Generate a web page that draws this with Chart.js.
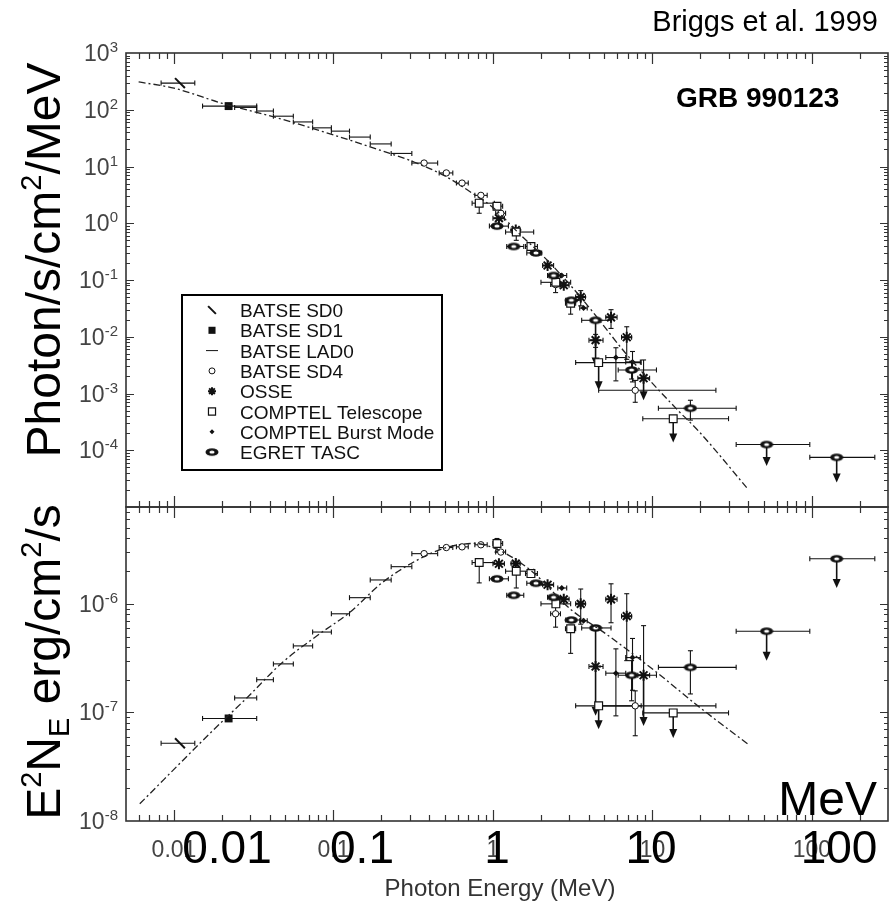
<!DOCTYPE html>
<html>
<head>
<meta charset="utf-8">
<script src="https://cdn.jsdelivr.net/npm/chart.js@4.4.1/dist/chart.umd.min.js"></script>
<style>
  body { margin: 0; background: #fff; }
  #wrap { position: relative; width: 894px; height: 902px; overflow: hidden; background: #fff; }
  canvas { position: absolute; left: 0; }
  #topChart { top: 0; }
  #botChart { top: 502px; }
</style>
</head>
<body>
<div id="wrap">
  <canvas id="topChart" width="894" height="512"></canvas>
  <canvas id="botChart" width="894" height="400"></canvas>
</div>
<script>
const FONT = '"Liberation Sans", Arial, Helvetica, sans-serif';
const INK = '#111';
const AXIS = '#333';
const LABEL = '#444';

// axis labels
const xTickVals = [0.01, 0.1, 1, 10, 100];
const xTickText = ['0.01', '0.1', '1', '10', '100'];
const topTickExp = [3, 2, 1, 0, -1, -2, -3, -4];
const botTickExp = [-6, -7, -8];
const legendNames = ['BATSE SD0', 'BATSE SD1', 'BATSE LAD0', 'BATSE SD4', 'OSSE',
  'COMPTEL Telescope', 'COMPTEL Burst Mode', 'EGRET TASC'];

// fitted model (photons / E^2 N_E)
const modelE  = [0.006, 0.01, 0.02, 0.046, 0.1, 0.2, 0.32, 0.5, 0.74, 1.0, 1.45, 2.2, 3.2, 4.2, 6.8, 14.5, 19.4, 39];
const modelN  = [310, 240, 130, 70, 36, 19, 12, 6.8, 3.4, 1.9, 0.67, 0.22, 0.07, 0.028, 0.0051, 5e-4, 2.2e-4, 2.2e-5];
const modelE2 = [0.0061, 0.0175, 0.0286, 0.048, 0.082, 0.126, 0.2, 0.33, 0.51, 0.76, 1.1, 1.75, 3.1, 5.1, 10.4, 20, 39.8];
const modelF  = [1.44e-8, 6.8e-8, 1.36e-7, 2.9e-7, 5.3e-7, 8.3e-7, 1.55e-6, 2.5e-6, 3.3e-6, 3.6e-6, 3.1e-6, 2.0e-6, 8.8e-7, 5.3e-7, 2.4e-7, 1.1e-7, 5.1e-8];

// BATSE SD0
const sd0E = [0.0109], sd0Elo = [0.0083], sd0Ehi = [0.0135];
const sd0N = [295], sd0F = [5.2e-8];

// BATSE SD1
const sd1E = [0.022], sd1Elo = [0.0151], sd1Ehi = [0.033];
const sd1N = [116], sd1F = [8.8e-8];

// BATSE LAD0
const ladE   = [0.028, 0.037, 0.048, 0.064, 0.085, 0.11, 0.145, 0.197, 0.266];
const ladElo = [0.024, 0.033, 0.042, 0.056, 0.074, 0.097, 0.126, 0.17, 0.23];
const ladEhi = [0.033, 0.042, 0.056, 0.074, 0.097, 0.126, 0.17, 0.23, 0.31];
const ladN   = [110, 95, 77, 61, 48, 42, 33, 25, 17];
const ladF   = [1.36e-7, 2.0e-7, 2.8e-7, 4.1e-7, 5.5e-7, 8.1e-7, 1.14e-6, 1.66e-6, 2.2e-6];

// BATSE SD4
const sd4E   = [0.37, 0.51, 0.64, 0.84, 1.12, 2.47, 7.8];
const sd4Elo = [0.31, 0.46, 0.59, 0.77, 1.04, 2.3, 4.6];
const sd4Ehi = [0.45, 0.56, 0.70, 0.92, 1.20, 2.65, 25];
const sd4N   = [11.5, 7.7, 5.1, 3.1, 1.5, 0.083, 1.14e-3];
const sd4Nlo = [null, null, null, null, null, 0.06, 7e-4];
const sd4Nhi = [null, null, null, null, null, 0.11, 1.7e-3];
const sd4F   = [2.9e-6, 3.3e-6, 3.35e-6, 3.5e-6, 3.0e-6, 8.1e-7, 1.15e-7];
const sd4Flo = [null, null, null, null, null, 6.1e-7, 6.1e-8];
const sd4Fhi = [null, null, null, null, null, 1.05e-6, 1.58e-7];

// OSSE
const osseE   = [1.09, 1.39, 2.2, 2.78, 3.55, 4.4, 5.5, 6.9, 8.8];
const osseElo = [1.0, 1.3, 2.05, 2.6, 3.3, 4.0, 5.1, 6.4, 8.1];
const osseEhi = [1.18, 1.48, 2.4, 3.0, 3.8, 4.9, 6.0, 7.4, 9.6];
const osseN   = [1.23, 0.76, 0.18, 0.081, 0.05, 0.0087, 0.022, 0.0098, 1.86e-3];
const osseNlo = [null, null, null, null, 0.035, 0.0065, 0.014, 0.004, 7.6e-4];
const osseNhi = [null, null, null, null, 0.065, 0.011, 0.03, 0.015, 3.9e-3];
const osseF   = [2.34e-6, 2.35e-6, 1.5e-6, 1.1e-6, 1.0e-6, 2.65e-7, 1.1e-6, 7.7e-7, 2.2e-7];
const osseFlo = [null, null, null, null, 6.5e-7, null, 6.7e-7, 3.0e-7, 7.5e-8];
const osseFhi = [null, null, null, null, 1.37e-6, null, 1.53e-6, 1.24e-6, 6.3e-7];
const osseUL  = [0, 0, 0, 0, 0, 0, 0, 0, 1];

// COMPTEL Telescope
const comptelE   = [0.82, 1.06, 1.4, 1.73, 2.48, 3.07, 4.6, 13.5];
const comptelElo = [0.74, 1.0, 1.2, 1.6, 2.0, 2.85, 3.3, 8.7];
const comptelEhi = [1.02, 1.15, 1.8, 1.9, 3.07, 3.3, 8.5, 30];
const comptelN   = [2.26, 2.0, 0.70, 0.39, 0.091, 0.039, 3.5e-3, 3.6e-4];
const comptelNlo = [1.5, null, 0.5, null, null, 0.025, 1.14e-3, 1.37e-4];
const comptelNhi = [2.6, null, null, null, null, null, null, null];
const comptelF   = [2.4e-6, 3.6e-6, 2.0e-6, 1.9e-6, 1.0e-6, 5.9e-7, 1.15e-7, 9.9e-8];
const comptelFlo = [1.56e-6, 3.0e-6, 1.4e-6, null, null, 3.5e-7, 7.0e-8, 5.8e-8];
const comptelFhi = [null, 4.0e-6, null, null, null, null, null, null];
const comptelUL  = [0, 0, 0, 0, 0, 0, 1, 1];

// COMPTEL Burst Mode
const burstE   = [2.7, 3.7, 5.9, 7.5];
const burstElo = [2.55, 3.5, 5.1, 6.8];
const burstEhi = [2.9, 3.9, 6.8, 8.4];
const burstN   = [0.12, 0.032, 4.3e-3, 3.6e-3];
const burstNlo = [null, null, 1.67e-3, 1.6e-3];
const burstNhi = [null, null, 6.4e-3, 5.5e-3];
const burstF   = [1.4e-6, 7.0e-7, 2.3e-7, 3.2e-7];
const burstFlo = [null, null, 9.3e-8, 1.6e-7];
const burstFhi = [null, null, 3.85e-7, 4.8e-7];

// EGRET TASC
const egretE   = [1.06, 1.35, 1.86, 2.4, 3.1, 4.4, 7.4, 17.3, 52, 143];
const egretElo = [0.95, 1.22, 1.63, 2.2, 2.86, 3.6, 6.1, 10.9, 33.5, 97];
const egretEhi = [1.25, 1.56, 2.02, 2.65, 3.55, 5.5, 10.6, 33.5, 97, 248];
const egretN   = [0.89, 0.39, 0.3, 0.12, 0.044, 0.0195, 2.6e-3, 5.5e-4, 1.26e-4, 7.5e-5];
const egretNlo = [null, null, null, null, null, 3e-3, 1.8e-3, 3.4e-4, 5.3e-5, 2.7e-5];
const egretNhi = [null, null, null, null, null, null, 3.7e-3, 7.6e-4, null, null];
const egretF   = [1.7e-6, 1.2e-6, 1.55e-6, 1.15e-6, 7.1e-7, 6.0e-7, 2.2e-7, 2.6e-7, 5.6e-7, 2.6e-6];
const egretFlo = [null, null, null, null, null, 9.3e-8, 1.28e-7, 1.48e-7, 3.0e-7, 1.4e-6];
const egretFhi = [null, null, null, null, null, null, 3.0e-7, 3.7e-7, null, null];
const egretUL  = [0, 0, 0, 0, 0, 1, 0, 0, 1, 1];

function pts(E, Elo, Ehi, V, Vlo, Vhi, ul) {
  return E.map((e, i) => ({
    x: e, y: V[i],
    xMin: Elo ? Elo[i] : null, xMax: Ehi ? Ehi[i] : null,
    yMin: Vlo ? Vlo[i] : null, yMax: Vhi ? Vhi[i] : null,
    ul: ul ? ul[i] : 0
  }));
}

// EGRET "eye" marker
const eye = (() => {
  const c = document.createElement('canvas');
  c.width = 14; c.height = 10;
  const g = c.getContext('2d');
  g.fillStyle = INK;
  g.beginPath(); g.ellipse(7, 5, 6.5, 3.8, 0, 0, Math.PI * 2); g.fill();
  g.fillStyle = '#fff';
  g.beginPath(); g.ellipse(7, 5, 2.6, 1.5, 0, 0, Math.PI * 2); g.fill();
  return c;
})();

const looks = {
  sd0: { pointStyle: 'line', pointRotation: 45, pointRadius: 7, borderWidth: 2, borderColor: INK, backgroundColor: INK },
  sd1: { pointStyle: 'rect', pointRadius: 5.6, borderWidth: 0, borderColor: INK, backgroundColor: INK },
  lad: { pointStyle: 'line', pointRadius: 0, borderWidth: 1, borderColor: INK, backgroundColor: INK },
  sd4: { pointStyle: 'circle', pointRadius: 3.2, borderWidth: 1, borderColor: INK, backgroundColor: '#fff' },
  osse: { pointStyle: 'star', pointRadius: 5.5, borderWidth: 2, borderColor: INK, backgroundColor: INK },
  comptel: { pointStyle: 'rect', pointRadius: 5.5, borderWidth: 1.2, borderColor: INK, backgroundColor: '#fff' },
  burst: { pointStyle: 'rectRot', pointRadius: 3, borderWidth: 0, borderColor: INK, backgroundColor: INK },
  egret: { pointStyle: eye, pointRadius: 6, borderWidth: 0, borderColor: INK, backgroundColor: INK }
};
// smaller versions for the legend box
const legendLooks = [
  { ...looks.sd0, pointRadius: 5.5 },
  { ...looks.sd1, pointRadius: 5 },
  { ...looks.lad, pointRadius: 6 },
  { ...looks.sd4, pointRadius: 3 },
  { ...looks.osse, pointRadius: 4 },
  { ...looks.comptel, pointRadius: 5 },
  { ...looks.burst, pointRadius: 2.5 },
  looks.egret
];

function datasets(top) {
  return [
    { data: top ? pts(modelE, null, null, modelN) : pts(modelE2, null, null, modelF),
      showLine: true, pointRadius: 0, borderColor: '#222', borderWidth: 1.3,
      borderDash: [7, 3, 2, 3], cubicInterpolationMode: 'monotone' },
    { data: pts(ladE, ladElo, ladEhi, top ? ladN : ladF), bars: true, ...looks.lad },
    { data: pts(sd0E, sd0Elo, sd0Ehi, top ? sd0N : sd0F), bars: true, ...looks.sd0 },
    { data: pts(sd1E, sd1Elo, sd1Ehi, top ? sd1N : sd1F), bars: true, ...looks.sd1 },
    { data: top ? pts(egretE, egretElo, egretEhi, egretN, egretNlo, egretNhi, egretUL)
                : pts(egretE, egretElo, egretEhi, egretF, egretFlo, egretFhi, egretUL), bars: true, ...looks.egret },
    { data: top ? pts(comptelE, comptelElo, comptelEhi, comptelN, comptelNlo, comptelNhi, comptelUL)
                : pts(comptelE, comptelElo, comptelEhi, comptelF, comptelFlo, comptelFhi, comptelUL), bars: true, ...looks.comptel },
    { data: top ? pts(sd4E, sd4Elo, sd4Ehi, sd4N, sd4Nlo, sd4Nhi)
                : pts(sd4E, sd4Elo, sd4Ehi, sd4F, sd4Flo, sd4Fhi), bars: true, ...looks.sd4 },
    { data: top ? pts(burstE, burstElo, burstEhi, burstN, burstNlo, burstNhi)
                : pts(burstE, burstElo, burstEhi, burstF, burstFlo, burstFhi), bars: true, ...looks.burst },
    { data: top ? pts(osseE, osseElo, osseEhi, osseN, osseNlo, osseNhi, osseUL)
                : pts(osseE, osseElo, osseEhi, osseF, osseFlo, osseFhi, osseUL), bars: true, ...looks.osse }
  ];
}

// error bars and upper-limit arrows, under the markers
const errorBars = {
  id: 'errorBars',
  beforeDatasetsDraw(chart) {
    const { ctx, scales: { x, y } } = chart;
    ctx.save();
    ctx.strokeStyle = INK;
    ctx.fillStyle = INK;
    ctx.lineWidth = 1.1;
    const seg = (a, b, c, d) => { ctx.beginPath(); ctx.moveTo(a, b); ctx.lineTo(c, d); ctx.stroke(); };
    chart.data.datasets.forEach(ds => {
      if (!ds.bars) return;
      ds.data.forEach(p => {
        const px = x.getPixelForValue(p.x), py = y.getPixelForValue(p.y);
        if (p.xMin != null) {
          const a = x.getPixelForValue(p.xMin), b = x.getPixelForValue(p.xMax);
          seg(a, py, b, py);
          seg(a, py - 2.5, a, py + 2.5);
          seg(b, py - 2.5, b, py + 2.5);
        }
        if (p.yMax != null) {
          const t = y.getPixelForValue(p.yMax);
          seg(px, py, px, t);
          seg(px - 2.5, t, px + 2.5, t);
        }
        if (p.yMin != null) {
          const lo = y.getPixelForValue(p.yMin);
          if (p.ul) {
            ctx.lineWidth = 1.6;
            seg(px, py, px, lo - 6);
            ctx.lineWidth = 1.1;
            ctx.beginPath();
            ctx.moveTo(px - 4, lo - 9);
            ctx.lineTo(px + 4, lo - 9);
            ctx.lineTo(px, lo);
            ctx.closePath();
            ctx.fill();
          } else {
            seg(px, py, px, lo);
            seg(px - 2.5, lo, px + 2.5, lo);
          }
        }
      });
    });
    ctx.restore();
  }
};

// box with inward ticks on every side
const frame = {
  id: 'frame',
  afterDatasetsDraw(chart) {
    const { ctx, chartArea: a, scales: { x, y } } = chart;
    ctx.save();
    ctx.strokeStyle = AXIS;
    ctx.lineWidth = 1.2;
    ctx.beginPath();
    const tick = (x1, y1, x2, y2) => { ctx.moveTo(x1, y1); ctx.lineTo(x2, y2); };
    for (let d = -3; d <= 3; d++) {
      for (let m = 1; m <= 9; m++) {
        const v = m * Math.pow(10, d);
        if (v <= x.min || v >= x.max) continue;
        const px = Math.round(x.getPixelForValue(v)) + 0.5;
        const L = m === 1 ? 11 : 6;
        tick(px, a.top, px, a.top + L);
        tick(px, a.bottom, px, a.bottom - L);
      }
    }
    const d0 = Math.floor(Math.log10(y.min)), d1 = Math.ceil(Math.log10(y.max));
    for (let d = d0; d <= d1; d++) {
      for (let m = 1; m <= 9; m++) {
        const v = m * Math.pow(10, d);
        if (v <= y.min * 1.001 || v >= y.max / 1.001) continue;
        const py = Math.round(y.getPixelForValue(v)) + 0.5;
        const L = m === 1 ? 8 : 4;
        tick(a.left, py, a.left + L, py);
        tick(a.right, py, a.right - L, py);
      }
    }
    ctx.stroke();
    ctx.lineWidth = 1.6;
    ctx.strokeRect(a.left, a.top, a.right - a.left, a.bottom - a.top);
    ctx.restore();
  }
};

function drawRich(ctx, parts, x, y, align) {
  const fontOf = p => `${p.b ? 'bold ' : ''}${p.s}px ${FONT}`;
  const sized = parts.map(p => { ctx.font = fontOf(p); return { ...p, w: ctx.measureText(p.t).width }; });
  const total = sized.reduce((s, p) => s + p.w, 0);
  let cx = align === 'right' ? x - total : align === 'center' ? x - total / 2 : x;
  sized.forEach(p => {
    ctx.font = fontOf(p);
    ctx.fillText(p.t, cx, y + (p.dy || 0));
    cx += p.w;
  });
}

function powerLabels(chart, exps) {
  const { ctx, scales: { y } } = chart;
  ctx.fillStyle = LABEL;
  exps.forEach(e => {
    const py = y.getPixelForValue(Math.pow(10, e));
    drawRich(ctx, [{ t: '10', s: 23 }, { t: String(e), s: 15, dy: -9 }], 118, py + 8, 'right');
  });
}

function rotatedTitle(ctx, parts, bx, cy) {
  ctx.save();
  ctx.translate(bx, cy);
  ctx.rotate(-Math.PI / 2);
  drawRich(ctx, parts, 0, 0, 'center');
  ctx.restore();
}

const topDeco = {
  id: 'topDeco',
  afterDraw(chart) {
    const { ctx } = chart;
    ctx.save();
    ctx.textAlign = 'left';
    ctx.textBaseline = 'alphabetic';
    powerLabels(chart, topTickExp);

    ctx.fillStyle = '#000';
    rotatedTitle(ctx, [{ t: 'Photon/s/cm', s: 48 }, { t: '2', s: 29, dy: -19 }, { t: '/MeV', s: 48 }], 60, 260);
    drawRich(ctx, [{ t: 'Briggs et al. 1999', s: 29 }], 878, 31, 'right');
    drawRich(ctx, [{ t: 'GRB 990123', s: 28, b: true }], 676, 107, 'left');

    // legend box
    const bx = 182, by = 295, bw = 260, bh = 175;
    ctx.fillStyle = '#fff';
    ctx.fillRect(bx, by, bw, bh);
    ctx.strokeStyle = '#000';
    ctx.lineWidth = 2;
    ctx.strokeRect(bx, by, bw, bh);
    legendNames.forEach((name, i) => {
      const ry = by + 15 + i * 20.3;
      const st = legendLooks[i];
      ctx.fillStyle = st.backgroundColor;
      ctx.strokeStyle = st.borderColor;
      ctx.lineWidth = st.borderWidth || 1;
      Chart.helpers.drawPoint(ctx, { pointStyle: st.pointStyle, radius: st.pointRadius,
        rotation: st.pointRotation || 0, borderWidth: st.borderWidth }, 212, ry);
      ctx.fillStyle = '#111';
      drawRich(ctx, [{ t: name, s: 19 }], 240, ry + 7, 'left');
    });
    ctx.restore();
  }
};

const botDeco = {
  id: 'botDeco',
  afterDraw(chart) {
    const { ctx } = chart;
    ctx.save();
    ctx.textAlign = 'left';
    ctx.textBaseline = 'alphabetic';
    powerLabels(chart, botTickExp);

    ctx.fillStyle = '#000';
    rotatedTitle(ctx, [{ t: 'E', s: 48 }, { t: '2', s: 29, dy: -19 }, { t: 'N', s: 48 }, { t: 'E', s: 29, dy: 9 },
      { t: ' erg/cm', s: 48 }, { t: '2', s: 29, dy: -19 }, { t: '/s', s: 48 }], 60, 160);

    // large overlaid axis numbers and unit
    const bigX = [227, 362, 497, 651, 839];
    xTickText.forEach((t, i) => drawRich(ctx, [{ t, s: 46 }], bigX[i], 361, 'center'));
    drawRich(ctx, [{ t: 'MeV', s: 48 }], 877, 313, 'right');

    ctx.fillStyle = '#333';
    drawRich(ctx, [{ t: 'Photon Energy (MeV)', s: 24 }], 500, 394, 'center');
    ctx.restore();
  }
};

function makeChart(id, top) {
  const xScale = {
    type: 'logarithmic', min: 0.005, max: 300, display: !top,
    afterBuildTicks: s => { s.ticks = xTickVals.map(v => ({ value: v })); },
    grid: { display: false, drawTicks: false },
    border: { display: false },
    ticks: {
      autoSkip: false, maxRotation: 0, padding: 16, color: LABEL,
      font: { family: FONT, size: 23 },
      callback: (v, i) => xTickText[i]
    }
  };
  if (!top) xScale.afterFit = s => { s.height = 81; };
  return new Chart(document.getElementById(id), {
    type: 'scatter',
    data: { datasets: datasets(top) },
    options: {
      responsive: false,
      animation: false,
      events: [],
      layout: {
        autoPadding: false,
        padding: top ? { left: 126, right: 6, top: 53, bottom: 5 } : { left: 126, right: 6, top: 5, bottom: 0 }
      },
      plugins: { legend: { display: false }, tooltip: { enabled: false } },
      scales: {
        x: xScale,
        y: top
          ? { type: 'logarithmic', min: 1e-5, max: 1e3, display: false }
          : { type: 'logarithmic', min: 1e-8, max: 7.8e-6, display: false }
      }
    },
    plugins: [errorBars, frame, top ? topDeco : botDeco]
  });
}

makeChart('topChart', true);
makeChart('botChart', false);
</script>
</body>
</html>
